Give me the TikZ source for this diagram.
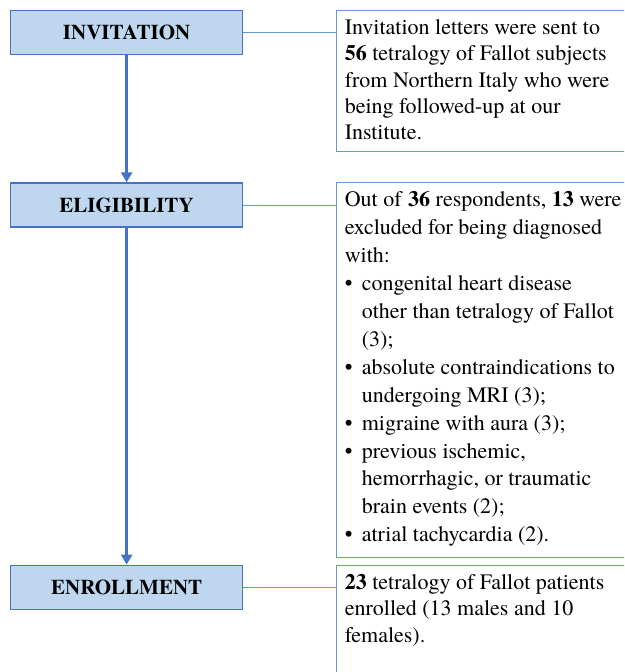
\documentclass[tikz,border=0pt]{standalone}
\usepackage{fontspec}
\setmainfont{TeX Gyre Termes}
\usepackage{tikz}
\usetikzlibrary{positioning, arrows.meta}

\definecolor{stagefill}{RGB}{190,215,238}
\definecolor{stageline}{RGB}{68,114,196}
\definecolor{noteline}{RGB}{96,152,212}

\newcommand{\bulletrow}{\makebox[17pt][l]{\textbullet}}
\newcommand{\hangrow}{\hspace*{17pt}}

\begin{document}
\begin{tikzpicture}[
    stage/.style={rectangle, draw=stageline, fill=stagefill, line width=1.3pt, minimum width=232pt, minimum height=44pt, inner sep=0pt, font=\fontsize{21}{25}\selectfont\bfseries},
    notebox/.style={rectangle, draw=noteline, line width=1pt, inner xsep=8pt, inner ysep=9pt, font=\fontsize{22}{26}\selectfont},
    flow/.style={draw=stageline, line width=3pt, -{Triangle[width=11pt,length=10pt]}},
    link/.style={draw=noteline, line width=0.8pt}
  ]
  \clip (0,0) rectangle (624pt,-672pt);

  % Stages on the left
  \node[stage, anchor=north west] (inv) at (10pt,-10pt) {INVITATION};
  \node[stage, below=127pt of inv] (elig) {ELIGIBILITY};
  \node[stage, below=337pt of elig] (enr) {ENROLLMENT};

  % Notes on the right
  \node[notebox, right=93pt of inv.north east, anchor=north west] (invnote) {\parbox[t][123pt][t]{300pt}{\raggedright\baselineskip=26.3pt
    Invitation letters were sent to\\
    \textbf{56} tetralogy of Fallot subjects\\
    from Northern Italy who were\\
    being followed-up at our\\
    Institute.}};
  \node[notebox, right=93pt of elig.north east, anchor=north west] (eligtext) {\parbox[t][357pt][t]{300pt}{\raggedright\baselineskip=27.9pt
    Out of \textbf{36} respondents, \textbf{13} were\\
    excluded for being diagnosed\\
    with:\\
    \bulletrow congenital heart disease\\
    \hangrow other than tetralogy of Fallot\\
    \hangrow (3);\\
    \bulletrow absolute contraindications to\\
    \hangrow undergoing MRI (3);\\
    \bulletrow migraine with aura (3);\\
    \bulletrow previous ischemic,\\
    \hangrow hemorrhagic, or traumatic\\
    \hangrow brain events (2);\\
    \bulletrow atrial tachycardia (2).}};
  \node[notebox, right=93pt of enr.north east, anchor=north west] (enrtext) {\parbox[t][110pt][t]{300pt}{\raggedright\baselineskip=26.7pt
    \textbf{23} tetralogy of Fallot patients\\
    enrolled (13 males and 10\\
    females).}};

  \draw[flow] (inv) -- (elig);
  \draw[flow] (elig) -- (enr);

  \draw[link] (inv.east) -- (inv.east -| invnote.west);
  \draw[link] (elig.east) -- (elig.east -| eligtext.west);
  \draw[link] (enr.east) -- (enr.east -| enrtext.west);
\end{tikzpicture}
\end{document}
